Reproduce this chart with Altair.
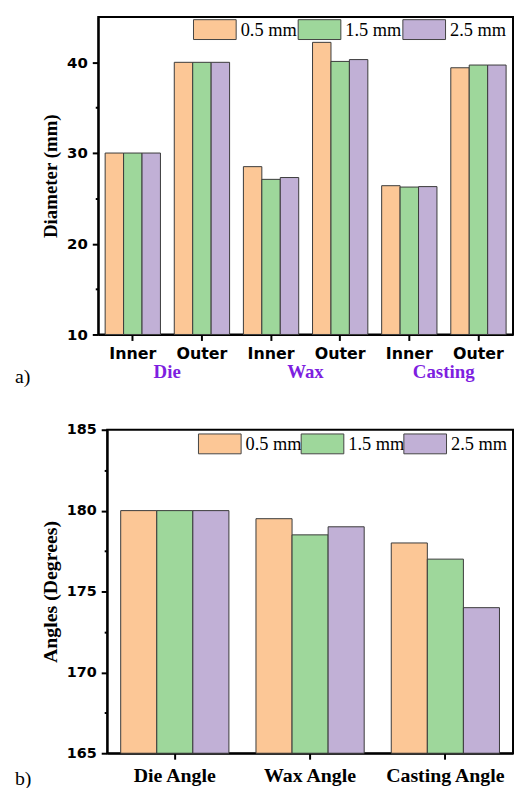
import altair as alt
import pandas as pd

# ---- data ----
groups = ["Die", "Wax", "Casting"]
parts = ["Inner", "Outer"]
series = ["0.5 mm", "1.5 mm", "2.5 mm"]
diam_05 = [30.0, 40.0, 28.5, 42.2, 26.4, 39.4]
diam_15 = [30.0, 40.0, 27.1, 40.1, 26.25, 39.7]
diam_25 = [30.0, 40.0, 27.3, 40.3, 26.3, 39.7]

angle_cats = ["Die Angle", "Wax Angle", "Casting Angle"]
ang_05 = [180.0, 179.5, 178.0]
ang_15 = [180.0, 178.5, 177.0]
ang_25 = [180.0, 179.0, 174.0]

colors = ["#FCC796", "#9ED79B", "#C1B0D6"]
purple = "#7E1FE0"

# ---- tables ----
pos_order = [f"{g}|{p}" for g in groups for p in parts]
rows = []
for s, vals in zip(series, [diam_05, diam_15, diam_25]):
    for pos, v in zip(pos_order, vals):
        rows.append({"pos": pos, "series": s, "value": v})
df_a = pd.DataFrame(rows)
df_grp = pd.DataFrame({"pos": [f"{g}|Outer" for g in groups], "grp": groups})

rows = []
for s, vals in zip(series, [ang_05, ang_15, ang_25]):
    for c, v in zip(angle_cats, vals):
        rows.append({"cat": c, "series": s, "value": v})
df_b = pd.DataFrame(rows)

W1, H1 = 418, 320
W2, H2 = 409, 326

sans = "DejaVu Sans"
serif = "Liberation Serif"
box_path = "M-2.15,-1H2.15V1H-2.15Z"


def legend(lx, ly, colpad):
    return alt.Legend(
        orient="none", legendX=lx, legendY=ly, direction="horizontal",
        symbolType=box_path, symbolSize=400, symbolStrokeColor="#444444",
        symbolStrokeWidth=1, symbolOpacity=1, labelFont=serif,
        labelFontSize=18.5, labelColor="black", labelOffset=15.5,
        columnPadding=colpad, padding=0, labelLimit=200,
    )


color_a = alt.Color("series:N", title=None,
                    scale=alt.Scale(domain=series, range=colors),
                    legend=legend(107, 2, -1.5))
color_b = alt.Color("series:N", title=None,
                    scale=alt.Scale(domain=series, range=colors),
                    legend=legend(103, 3.5, -3.5))

tick_cond = {"condition": {"test": "datum.value % 10 === 0", "value": 6}, "value": 3}
tick_cond_b = {"condition": {"test": "datum.value % 5 === 0", "value": 6}, "value": 3}

xa = alt.X("pos:N", title=None,
           scale=alt.Scale(domain=pos_order, paddingInner=0.2, paddingOuter=0.1),
           axis=alt.Axis(labelExpr="split(datum.value, '|')[1]", labelAngle=0,
                         labelFont=sans, labelFontWeight="bold", labelFontSize=16,
                         labelColor="black", labelPadding=5, tickSize=6, tickWidth=2,
                         tickColor="black", domainColor="black", domainWidth=2))

bars_a = alt.Chart(df_a).mark_bar(stroke="#3a3a3a", strokeWidth=1).encode(
    x=xa,
    xOffset=alt.XOffset("series:N", scale=alt.Scale(domain=series, paddingInner=0)),
    y=alt.Y("value:Q", title="Diameter (mm)",
            scale=alt.Scale(domain=[10, 45], zero=False, nice=False, clamp=True),
            axis=alt.Axis(values=[10, 15, 20, 25, 30, 35, 40],
                          labelExpr="datum.value % 10 === 0 ? datum.label : ''",
                          labelFont=sans, labelFontWeight="bold", labelFontSize=15,
                          labelColor="black", labelPadding=5, tickSize=tick_cond,
                          tickWidth=2, tickColor="black", domainColor="black",
                          domainWidth=2, grid=False, titleFont=serif,
                          titleFontWeight="bold", titleFontSize=19,
                          titleColor="black", titlePadding=6)),
    color=color_a,
)

grp_text = alt.Chart(df_grp).mark_text(
    font=serif, fontWeight="bold", fontSize=19, color=purple, dx=-35,
    baseline="middle").encode(
    x=alt.X("pos:N", scale=alt.Scale(domain=pos_order, paddingInner=0.2, paddingOuter=0.1)),
    y=alt.value(H1 + 38),
    text="grp:N",
)

lab_a = alt.Chart(pd.DataFrame({"t": ["a)"]})).mark_text(
    font=serif, fontSize=20, align="left", baseline="middle", color="black").encode(
    x=alt.value(-84), y=alt.value(H1 + 43), text="t:N")

chart_a = alt.layer(bars_a, grp_text, lab_a).properties(width=W1, height=H1)

bars_b = alt.Chart(df_b).mark_bar(stroke="#3a3a3a", strokeWidth=1).encode(
    x=alt.X("cat:N", title=None,
            scale=alt.Scale(domain=angle_cats, paddingInner=0.2, paddingOuter=0.1),
            axis=alt.Axis(labelAngle=0, labelFont=serif, labelFontWeight="bold",
                          labelFontSize=20, labelColor="black", labelPadding=6,
                          tickSize=6, tickWidth=2, tickColor="black",
                          domainColor="black", domainWidth=2)),
    xOffset=alt.XOffset("series:N", scale=alt.Scale(domain=series, paddingInner=0)),
    y=alt.Y("value:Q", title="Angles (Degrees)",
            scale=alt.Scale(domain=[165, 185], zero=False, nice=False, clamp=True),
            axis=alt.Axis(values=[165, 167.5, 170, 172.5, 175, 177.5, 180, 182.5, 185],
                          labelExpr="datum.value % 5 === 0 ? datum.label : ''",
                          labelFont=sans, labelFontWeight="bold", labelFontSize=14.5,
                          labelColor="black", labelPadding=5, tickSize=tick_cond_b,
                          tickWidth=2, tickColor="black", domainColor="black",
                          domainWidth=2, grid=False, titleFont=serif,
                          titleFontWeight="bold", titleFontSize=20,
                          titleColor="black", titlePadding=6)),
    color=color_b,
)

lab_b = alt.Chart(pd.DataFrame({"t": ["b)"]})).mark_text(
    font=serif, fontSize=20, align="left", baseline="middle", color="black").encode(
    x=alt.value(-93), y=alt.value(H2 + 26), text="t:N")

chart_b = alt.layer(bars_b, lab_b).properties(width=W2, height=H2)


def spacer():
    return alt.Chart(pd.DataFrame({"s": [0]})).mark_point(size=0, opacity=0).encode(
        x=alt.value(0), y=alt.value(0)
    ).properties(width=1, height=1, view=alt.ViewBackground(stroke="transparent"))


chart = alt.concat(spacer(), chart_a, spacer(), chart_b, columns=2,
                   spacing={"row": 33, "column": 0}, align="none").resolve_scale(
    color="independent", x="independent", y="independent", xOffset="independent"
).resolve_legend(color="independent").properties(
    padding={"left": 11, "top": 13, "right": 0, "bottom": 0},
).configure_view(stroke="black", strokeWidth=2)

chart.save("out.html", embed_options={"renderer": "svg", "actions": False})
